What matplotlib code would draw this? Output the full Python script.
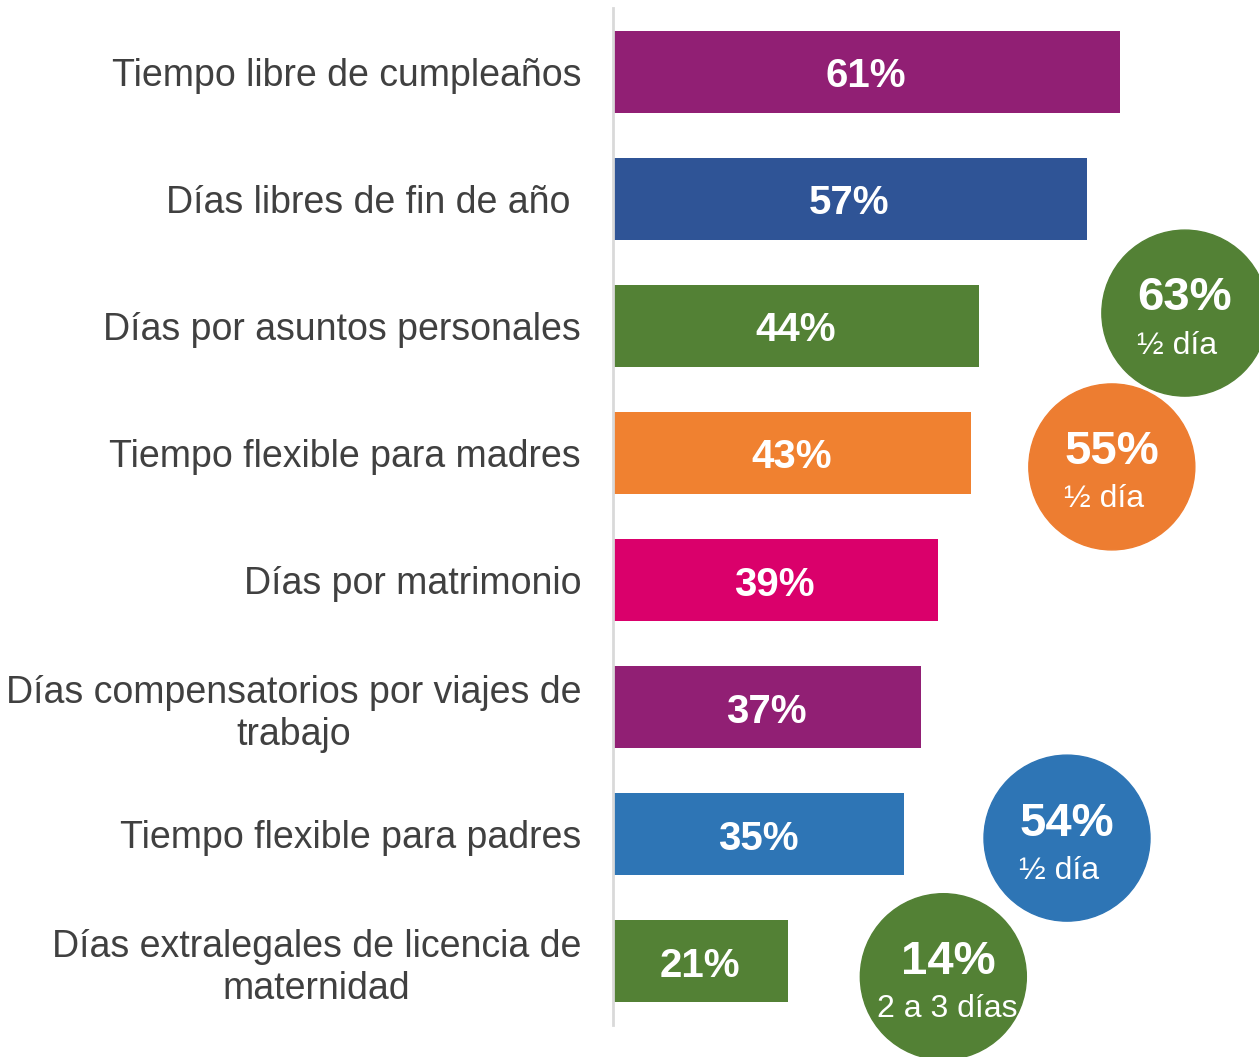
import matplotlib
matplotlib.use("Agg")
import matplotlib.pyplot as plt
from matplotlib.patches import Ellipse

plt.rcParams['font.family'] = ['Liberation Sans', 'DejaVu Sans']

categories = [
    "Tiempo libre de cumpleaños",
    "Días libres de fin de año ",
    "Días por asuntos personales",
    "Tiempo flexible para madres",
    "Días por matrimonio",
    "Días compensatorios por viajes de\ntrabajo",
    "Tiempo flexible para padres",
    "Días extralegales de licencia de\nmaternidad",
]
values = [61, 57, 44, 43, 39, 37, 35, 21]
bar_colors = ["#911F74", "#2F5496", "#538135", "#F08130", "#DA006B",
              "#911F74", "#2E75B5", "#538135"]

# callout bubbles: value, subtitle, colour
bubble_values = [63, 55, 54, 14]
bubble_subs = ["½ día", "½ día", "½ día", "2 a 3 días"]
bubble_colors = ["#538135", "#ED7D31", "#2E75B5", "#538135"]

W, H = 1259, 1057
fig = plt.figure(figsize=(W / 100, H / 100), dpi=100)
ax = fig.add_axes([613 / W, (H - 1025) / H, (W - 613) / W, 1017 / H])

y = list(range(len(categories)))
ax.barh(y, values, height=0.645, color=bar_colors, left=0.1)
ax.set_ylim(len(categories) - 0.5, -0.5)
px_x = 8.3
xmax = (W - 613) / px_x
ax.set_xlim(0, xmax)

for yi, v in zip(y, values):
    ax.text(v / 2, yi + 0.035, f"{v}%", ha="center", va="center", color="white",
            fontsize=29, fontweight="bold")

ax.set_yticks(y)
ax.set_yticklabels(categories, fontsize=27, color="#404040", multialignment="center")
ax.tick_params(axis="y", length=0, pad=23)
ax.set_xticks([])
for s in ["top", "right", "bottom"]:
    ax.spines[s].set_visible(False)
ax.spines["left"].set_color("#D9D9D9")
ax.spines["left"].set_linewidth(2)

# bubble layout (data units); ellipse to stay circular on screen
px_y = 1017 / len(categories)
rx = 83 / px_x
ry = 83 / px_y
centers = [(68.9, 1.90), (60.1, 3.11), (54.7, 6.03), (39.8, 7.12)]
for i, ((cx, cy), bv, sub, col) in enumerate(zip(centers, bubble_values, bubble_subs, bubble_colors)):
    ax.add_patch(Ellipse((cx, cy), 2 * rx, 2 * ry, color=col, clip_on=False, zorder=3))
    if i < 3:
        ax.text(cx, cy - 0.115, f"{bv}%", ha="center", va="center", color="white",
                fontsize=34, fontweight="bold", zorder=4, clip_on=False)
        ax.text(cx - 48 / px_x, cy + 0.255, sub, ha="left", va="center", color="white",
                fontsize=23, zorder=4, clip_on=False)
    else:
        ax.text(cx + 5 / px_x, cy - 0.115, f"{bv}%", ha="center", va="center", color="white",
                fontsize=34, fontweight="bold", zorder=4, clip_on=False)
        ax.text(cx + 4 / px_x, cy + 0.255, sub, ha="center", va="center", color="white",
                fontsize=23, zorder=4, clip_on=False)

fig.savefig("out.png", dpi=100)
